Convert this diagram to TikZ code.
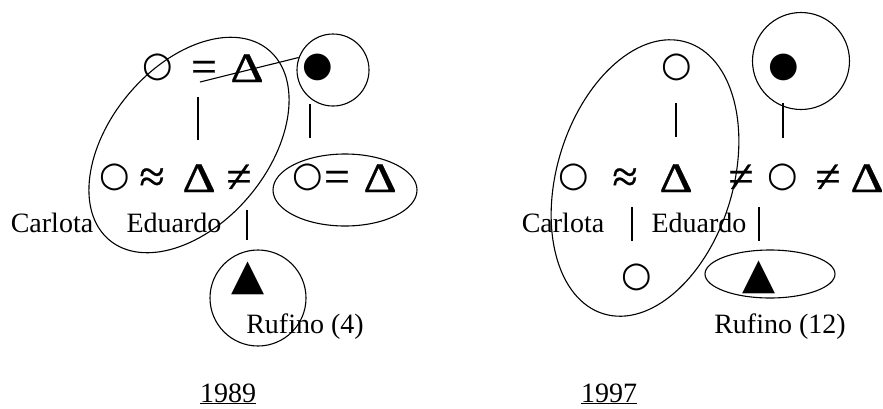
\documentclass[tikz,border=0pt]{standalone}
\usepackage{fontspec}
\setmainfont{Liberation Serif}
\newfontfamily\symfont{DejaVu Sans}
\newfontfamily\relfont[FakeBold=0.6]{Liberation Serif}
\newcommand{\Dl}{\scalebox{1.3}[1.05]{Δ}}
\usetikzlibrary{shapes.geometric}
\begin{document}
\begin{tikzpicture}[x=1pt, y=-1pt,
  who/.style={font=\fontsize{28}{30}\selectfont, inner sep=0pt, anchor=base},
  rel/.style={font=\relfont\fontsize{46}{48}\selectfont, inner sep=0pt, anchor=base},
  delta/.style={font=\relfont\fontsize{40}{42}\selectfont, inner sep=0pt, anchor=base},
  sym/.style={font=\symfont\fontsize{35}{37}\selectfont, inner sep=0pt},
  ring/.style={draw=black, line width=1.1pt},
  bar/.style={line width=1.8pt}]
\useasboundingbox (0,0) rectangle (883,408);
% 1989
\node[sym] (o1) at (158,67) {○};
\node[rel] (eq1) at (204,82) {=};
\node[delta] (tr1) at (247,82) {\Dl};
\node[sym] (dot1) at (318,67) {●};
\node[shape=circle, ring, minimum size=72pt] (Dad1) at (333,70) {};
\node[sym] (o2) at (115,177) {○};
\node[rel] (ap1) at (152,192) {≈};
\node[delta] (tr2) at (199,192) {\Dl};
\node[rel] (ne1) at (239,192) {≠};
\node[sym] (o3) at (308,177) {○};
\node[rel] (eq2) at (337,192) {=};
\node[delta] (tr3) at (380,192) {\Dl};
\node[shape=ellipse, ring, minimum width=144pt, minimum height=72pt] (Pair1) at (345,190) {};
\node[shape=ellipse, ring, minimum width=248pt, minimum height=158pt, rotate=50] (Kids1) at (189,145) {};
\node[who] (carl1) at (52,232) {Carlota};
\node[who] (edu1) at (174,232) {Eduardo};
\node[sym, font=\symfont\fontsize{43}{45}\selectfont] (tri1) at (248,278) {▲};
\node[shape=circle, ring, minimum size=96pt] (Ruf1) at (258,298) {};
\node[who] (rufn1) at (305,333) {Rufino (4)};
\node[who] (yr1) at (228,402) {\underline{1989}};
\coordinate (tie1) at (200,82);
\coordinate (b1a) at (198,97);  \coordinate (b1b) at (198,140);
\coordinate (b2a) at (310,104); \coordinate (b2b) at (310,138);
\coordinate (b3a) at (247,210); \coordinate (b3b) at (247,240);
\path [-, ring] (tie1) edge (Dad1.160);
\path [-, bar] (b1a) edge (b1b);
\path [-, bar] (b2a) edge (b2b);
\path [-, bar] (b3a) edge (b3b);
% 1997
\node[sym] (o4) at (677,67) {○};
\node[sym] (dot2) at (784,67) {●};
\node[shape=circle, ring, minimum size=97pt] (Dad2) at (801,61) {};
\node[sym] (o5) at (574,177) {○};
\node[rel] (ap2) at (625,192) {≈};
\node[delta] (tr4) at (676,192) {\Dl};
\node[rel] (ne2) at (741,192) {≠};
\node[sym] (o6) at (783,177) {○};
\node[rel] (ne3) at (828,192) {≠};
\node[delta] (tr5) at (867,192) {\Dl};
\node[who] (carl2) at (563,232) {Carlota};
\node[who] (edu2) at (699,232) {Eduardo};
\node[sym] (o7) at (637,277) {○};
\node[shape=ellipse, ring, minimum width=284pt, minimum height=176pt, rotate=73] (Kids2) at (645,178) {};
\node[sym, font=\symfont\fontsize{43}{45}\selectfont] (tri2) at (759,277) {▲};
\node[shape=ellipse, ring, minimum width=130pt, minimum height=48pt] (Ruf2) at (770,274) {};
\node[who] (rufn2) at (780,333) {Rufino (12)};
\node[who] (yr2) at (609,402) {\underline{1997}};
\coordinate (b4a) at (676,103); \coordinate (b4b) at (676,137);
\coordinate (b5a) at (783,103); \coordinate (b5b) at (783,138);
\coordinate (b6a) at (632,207); \coordinate (b6b) at (632,241);
\coordinate (b7a) at (759,207); \coordinate (b7b) at (759,241);
\path [-, bar] (b4a) edge (b4b);
\path [-, bar] (b5a) edge (b5b);
\path [-, bar] (b6a) edge (b6b);
\path [-, bar] (b7a) edge (b7b);
\end{tikzpicture}
\end{document}
